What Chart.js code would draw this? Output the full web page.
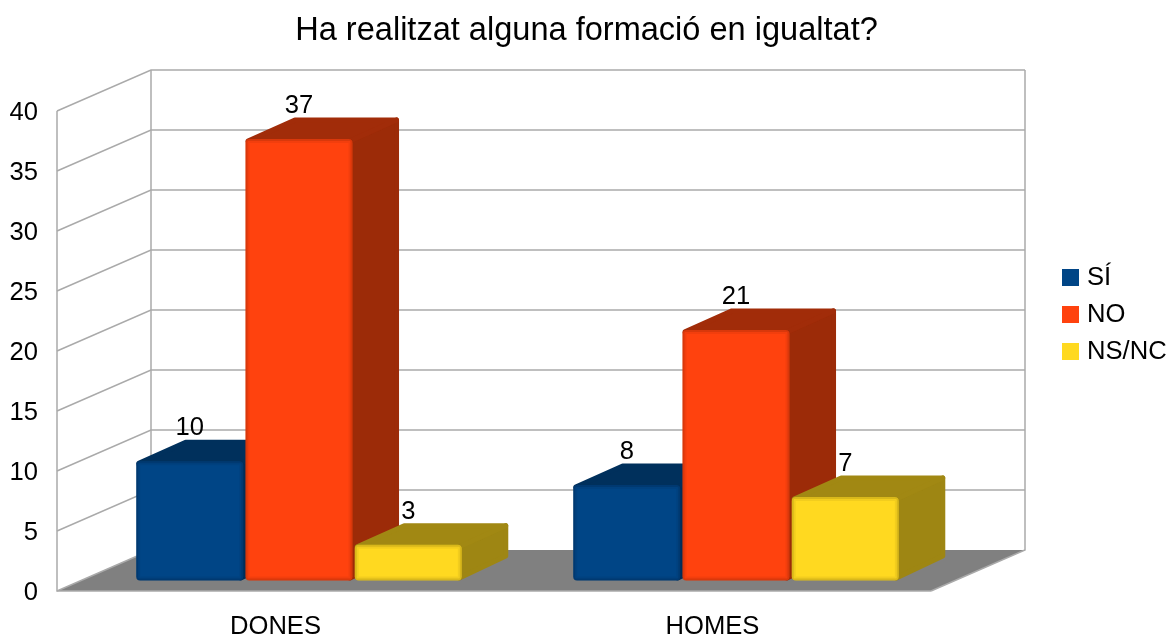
<!DOCTYPE html>
<html><head><meta charset="utf-8">
<script src="https://cdn.jsdelivr.net/npm/chart.js@4"></script>
<style>html,body{margin:0;padding:0;background:#fff}#w{width:1168px;height:637px;position:relative}</style>
</head><body><div id="w"><canvas id="c" width="1168" height="637"></canvas></div>
<script>
const categories = ['DONES', 'HOMES'];
const seriesNames = ['SÍ', 'NO', 'NS/NC'];
const siValues = [10, 8];
const noValues = [37, 21];
const nsncValues = [3, 7];
const yTicks = [0, 5, 10, 15, 20, 25, 30, 35, 40];
const frontColors = ['#004586', '#ff420e', '#ffd920'];
const topColors = ['#00305c', '#a12c09', '#a18813'];
const sideColors = ['#002e59', '#9c2b08', '#9e8613'];
const FONT = '"Liberation Sans", Arial, sans-serif';
const FS = 25.6;
const DEPTH = {x: 94, y: 41};
const BAR = {dx: 23.5, base: 580.5, k: 0.9944, sx: 47, sy: 22};

const scene = {
  id: 'scene',
  beforeDatasetsDraw(chart) {
    const ctx = chart.ctx, ys = chart.scales.y, a = chart.chartArea;
    const L = a.left, R = a.right, B = a.bottom;
    ctx.save();
    ctx.fillStyle = '#808080';
    ctx.beginPath();
    ctx.moveTo(L, B); ctx.lineTo(R, B); ctx.lineTo(R + DEPTH.x, B - DEPTH.y); ctx.lineTo(L + DEPTH.x, B - DEPTH.y);
    ctx.closePath(); ctx.fill();
    ctx.strokeStyle = '#aaaaaa'; ctx.lineWidth = 1.5;
    yTicks.forEach(v => {
      const y = ys.getPixelForValue(v);
      ctx.beginPath();
      ctx.moveTo(L, y); ctx.lineTo(L + DEPTH.x, y - DEPTH.y);
      if (v > 0) ctx.lineTo(R + DEPTH.x, y - DEPTH.y);
      ctx.stroke();
    });
    const top = ys.getPixelForValue(40);
    ctx.beginPath();
    ctx.moveTo(L, top); ctx.lineTo(L, B); ctx.lineTo(R, B);
    ctx.moveTo(L + DEPTH.x, top - DEPTH.y); ctx.lineTo(L + DEPTH.x, B - DEPTH.y);
    ctx.moveTo(R + DEPTH.x, top - DEPTH.y); ctx.lineTo(R + DEPTH.x, B - DEPTH.y);
    ctx.lineTo(R, B);
    ctx.stroke();
    ctx.restore();

    const mapY = y => BAR.base + (y - B) * BAR.k;
    chart.data.datasets.forEach((ds, i) => {
      const meta = chart.getDatasetMeta(i);
      ctx.save();
      ctx.lineJoin = 'round'; ctx.lineWidth = 5;
      meta.data.forEach(el => {
        const l = el.x - el.width / 2 + BAR.dx + 2.5, r = el.x + el.width / 2 + BAR.dx - 2.5;
        const t = mapY(el.y) + 2, b = mapY(el.base) - 2.5;
        const xb = r + BAR.sx - 0.5;
        ctx.fillStyle = ctx.strokeStyle = sideColors[i];
        ctx.beginPath();
        ctx.moveTo(r, t); ctx.lineTo(xb, t - BAR.sy + 1); ctx.lineTo(xb, b - BAR.sy); ctx.lineTo(r, b);
        ctx.closePath(); ctx.fill(); ctx.stroke();
        ctx.fillStyle = ctx.strokeStyle = topColors[i];
        ctx.beginPath();
        ctx.moveTo(l, t); ctx.lineTo(l + BAR.sx, t - BAR.sy + 1); ctx.lineTo(xb, t - BAR.sy + 1); ctx.lineTo(r, t);
        ctx.closePath(); ctx.fill(); ctx.stroke();
      });
      ctx.restore();
      ctx.save();
      ctx.translate(BAR.dx, BAR.base - B * BAR.k);
      ctx.scale(1, BAR.k);
      meta.controller.draw();
      ctx.restore();
      ctx.save();
      ctx.lineJoin = 'round';
      meta.data.forEach(el => {
        const l = el.x - el.width / 2 + BAR.dx, w = el.width;
        const t = mapY(el.y), b = mapY(el.base);
        [[1, 2, 0.1], [2, 4, 0.05]].forEach(([ins, lw, alpha]) => {
          ctx.strokeStyle = 'rgba(0,0,0,' + alpha + ')';
          ctx.lineWidth = lw;
          ctx.beginPath();
          ctx.roundRect(l + ins, t + ins, w - 2 * ins, b - t - 2 * ins, 2);
          ctx.stroke();
        });
      });
      ctx.restore();
    });
    ctx.save();
    ctx.fillStyle = '#000'; ctx.font = FS + 'px ' + FONT;
    ctx.textAlign = 'center'; ctx.textBaseline = 'middle';
    chart.data.datasets.forEach((ds, i) => {
      chart.getDatasetMeta(i).data.forEach((el, j) => {
        ctx.fillText(String(ds.data[j]), el.x + BAR.dx, mapY(el.y) - 33);
      });
    });
    ctx.textAlign = 'left';
    seriesNames.forEach((n, i) => {
      const y = 277 + i * 37;
      ctx.fillStyle = frontColors[i];
      ctx.fillRect(1062, y - 8, 17, 17);
      ctx.fillStyle = '#000';
      ctx.fillText(n, 1087, y + 1);
    });
    ctx.restore();
    return false;
  }
};

new Chart(document.getElementById('c'), {
  type: 'bar',
  data: {
    labels: categories,
    datasets: [siValues, noValues, nsncValues].map((d, i) => ({
      label: seriesNames[i], data: d,
      backgroundColor: frontColors[i],
      borderWidth: 0, borderRadius: 4, borderSkipped: false,
      categoryPercentage: 0.75, barPercentage: 0.98, clip: false
    }))
  },
  options: {
    responsive: false, animation: false,
    layout: {padding: {left: 5, right: 0, top: 0, bottom: 0}},
    plugins: {
      legend: {display: false},
      tooltip: {enabled: false},
      title: {
        display: true, text: 'Ha realitzat alguna formació en igualtat?',
        color: '#000', font: {family: FONT, size: 32.55, weight: 'normal'},
        padding: {top: 11, bottom: 60.9}
      }
    },
    scales: {
      x: {
        grid: {display: false, drawTicks: false}, border: {display: false},
        ticks: {color: '#000', font: {family: FONT, size: FS}, padding: 21, maxRotation: 0},
        afterFit: s => { s.height = 46; }
      },
      y: {
        min: 0, max: 40,
        grid: {display: false, drawTicks: false}, border: {display: false},
        afterBuildTicks: s => { s.ticks = yTicks.map(v => ({value: v})); },
        ticks: {color: '#000', font: {family: FONT, size: FS}, padding: 19, labelOffset: 2},
        afterFit: s => { s.width = 52; }
      },
      gap: {
        type: 'linear', position: 'right', display: true,
        grid: {display: false, drawTicks: false}, border: {display: false},
        ticks: {display: false},
        afterFit: s => { s.width = 237; }
      }
    }
  },
  plugins: [scene]
});
</script></body></html>
